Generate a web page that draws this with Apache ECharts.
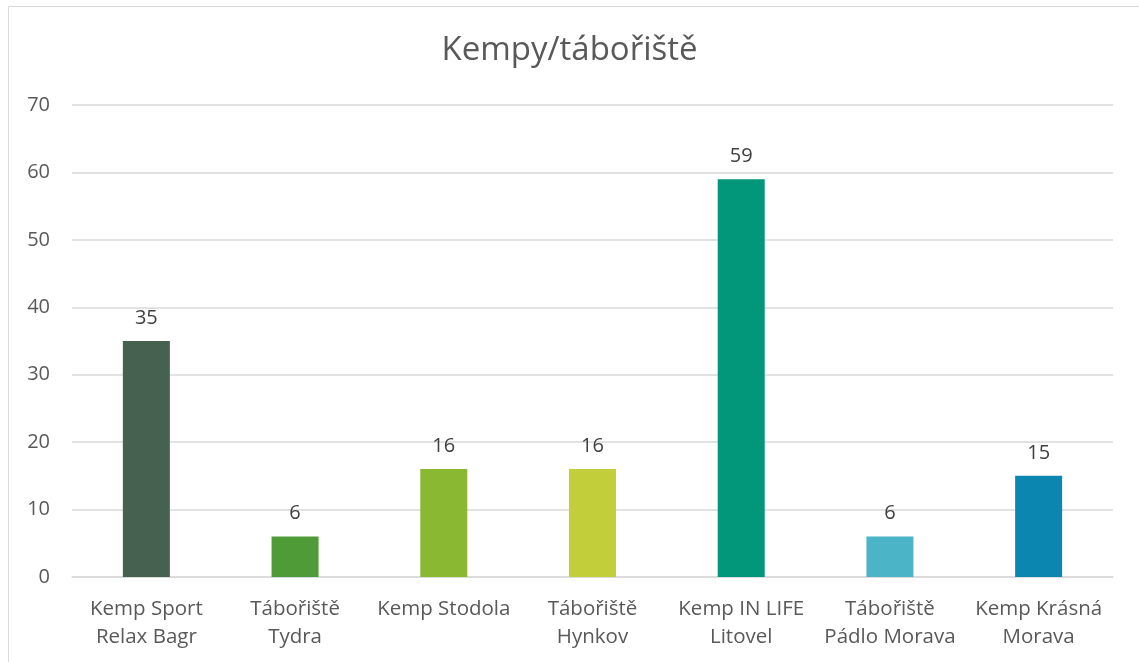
<!DOCTYPE html>
<html>
<head>
    <meta charset="utf-8">
    <title>Kempy/tábořiště</title>
    <script src="https://cdn.jsdelivr.net/npm/echarts@6/dist/echarts.min.js"></script>
    <style>
        html, body { margin: 0; padding: 0; background: #fff; }
    </style>
</head>
<body>
    <div id="main" style="width: 1139px;height:662px;"></div>
    <script type="text/javascript">
        // data
        var categories = ['Kemp Sport\nRelax Bagr', 'Tábořiště\nTydra', 'Kemp Stodola', 'Tábořiště\nHynkov',
            'Kemp IN LIFE\nLitovel', 'Tábořiště\nPádlo Morava', 'Kemp Krásná\nMorava'];
        var values = [35, 6, 16, 16, 59, 6, 15];
        var barColors = ['#46614F', '#4F9B37', '#8AB833', '#C3CF3A', '#02967A', '#4BB5C7', '#0A86B1'];

        var myChart = echarts.init(document.getElementById('main'));
        var font = '"Open Sans", Lato, sans-serif';

        var option = {
            animation: false,
            backgroundColor: '#fff',
            textStyle: { fontFamily: font },
            title: {
                text: 'Kempy/tábořiště',
                left: 'center',
                top: 29,
                textStyle: { color: '#595959', fontSize: 33, fontWeight: 'normal', fontFamily: font }
            },
            graphic: [{
                type: 'rect',
                shape: { x: 8.5, y: 6.5, width: 1140, height: 660 },
                style: { fill: 'none', stroke: '#D9D9D9', lineWidth: 1 },
                silent: true
            }],
            grid: { left: 72, right: 26, top: 105, bottom: 85 },
            xAxis: {
                type: 'category',
                data: categories,
                axisLine: { lineStyle: { color: '#D9D9D9', width: 1.5 } },
                axisTick: { show: false },
                axisLabel: {
                    color: '#595959', fontSize: 20.5, lineHeight: 28, margin: 18,
                    interval: 0, fontFamily: font
                }
            },
            yAxis: {
                type: 'value',
                min: 0,
                max: 70,
                interval: 10,
                axisLine: { show: false },
                axisTick: { show: false },
                splitLine: { lineStyle: { color: '#D9D9D9', width: 1.5 } },
                axisLabel: { color: '#595959', fontSize: 20, margin: 22, fontFamily: font }
            },
            series: [{
                type: 'bar',
                barWidth: 47,
                data: values.map(function (v, i) {
                    return { value: v, itemStyle: { color: barColors[i] } };
                }),
                label: {
                    show: true,
                    position: 'top',
                    distance: 13,
                    color: '#404040',
                    fontSize: 20,
                    fontFamily: font
                }
            }]
        };
        myChart.setOption(option);
    </script>
</body>
</html>
